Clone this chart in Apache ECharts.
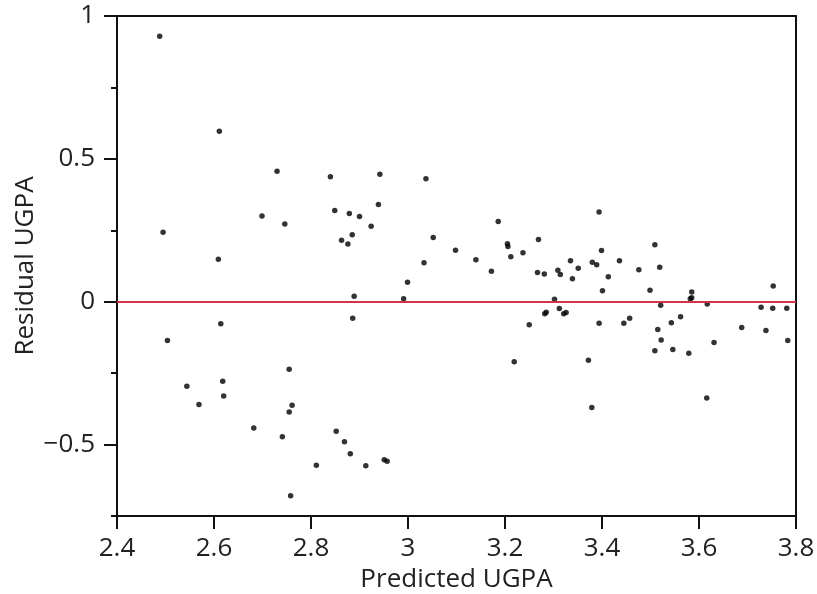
<!DOCTYPE html>
<html>
<head>
<meta charset="utf-8">
<script src="https://cdn.jsdelivr.net/npm/echarts@6/dist/echarts.min.js"></script>
<style>
html,body{margin:0;padding:0;background:#fff;}
#chart{width:817px;height:594px;}
</style>
</head>
<body>
<div id="chart"></div>
<script>
// Predicted UGPA (x) and residual UGPA (y)
const predicted = [
  2.488, 2.611, 2.730, 2.840, 2.699, 2.746, 2.849, 2.495, 2.609, 2.942,
  3.037, 2.879, 2.900, 2.939, 2.924, 2.863, 2.876, 2.885, 3.052, 3.186,
  3.098, 3.140, 3.172, 3.205, 3.206, 3.212, 3.237, 3.269, 3.267, 3.281,
  3.309, 3.314, 3.033, 2.999, 2.889, 2.991, 3.302, 3.394, 3.509, 3.399,
  3.335, 3.380, 3.389, 3.351, 3.436, 3.476, 3.519, 3.339, 3.413, 3.401,
  3.499, 3.585, 3.585, 3.582, 3.753, 2.614, 2.504, 2.755, 2.544, 2.618,
  2.620, 2.569, 2.761, 2.755, 2.682, 2.741, 2.852, 2.811, 2.758, 2.886,
  2.869, 2.881, 2.913, 2.951, 2.957, 3.219, 3.250, 3.282, 3.285, 3.312,
  3.321, 3.326, 3.521, 3.617, 3.728, 3.752, 3.781, 3.394, 3.445, 3.457,
  3.543, 3.562, 3.515, 3.522, 3.509, 3.546, 3.579, 3.631, 3.688, 3.738,
  3.783, 3.372, 3.379, 3.616
];
const residual = [
  0.929, 0.597, 0.457, 0.437, 0.300, 0.272, 0.319, 0.243, 0.149, 0.446,
  0.430, 0.309, 0.298, 0.340, 0.264, 0.215, 0.202, 0.234, 0.225, 0.281,
  0.180, 0.147, 0.107, 0.203, 0.193, 0.157, 0.171, 0.218, 0.102, 0.097,
  0.110, 0.095, 0.136, 0.068, 0.019, 0.010, 0.009, 0.314, 0.199, 0.179,
  0.143, 0.138, 0.129, 0.117, 0.143, 0.112, 0.121, 0.080, 0.087, 0.038,
  0.040, 0.034, 0.014, 0.010, 0.055, -0.077, -0.136, -0.236, -0.296, -0.278,
  -0.330, -0.360, -0.362, -0.386, -0.442, -0.473, -0.453, -0.572, -0.679, -0.058,
  -0.490, -0.532, -0.574, -0.553, -0.558, -0.210, -0.081, -0.042, -0.037, -0.024,
  -0.042, -0.038, -0.012, -0.008, -0.019, -0.023, -0.023, -0.075, -0.075, -0.058,
  -0.074, -0.053, -0.097, -0.134, -0.172, -0.167, -0.180, -0.143, -0.090, -0.101,
  -0.136, -0.205, -0.370, -0.337
];
const xTicks = [2.4, 2.6, 2.8, 3.0, 3.2, 3.4, 3.6, 3.8];
const yMajorTicks = [-0.5, 0, 0.5, 1];
const yMinorTicks = [-0.75, -0.25, 0.25, 0.75];
const xRange = [2.4, 3.8];
const yRange = [-0.75, 1];
const referenceLevel = 0;
const xTitle = 'Predicted UGPA';
const yTitle = 'Residual UGPA';

const points = predicted.map((x, i) => [x, residual[i]]);
const FONT = 'Open Sans';
const fmt = v => String(+v.toFixed(2)).replace('-', '\u2212');
const LINE = { color: '#111', width: 2 };
const frameAxis = (extra) => Object.assign({
  type: 'value',
  axisLine: { show: true, onZero: false, lineStyle: LINE },
  axisTick: { show: false }, axisLabel: { show: false }, splitLine: { show: false }
}, extra);

const chart = echarts.init(document.getElementById('chart'));
chart.setOption({
  animation: false,
  backgroundColor: '#ffffff',
  grid: { left: 117, right: 21, top: 16, bottom: 78, outerBoundsMode: 'none', containLabel: false },
  xAxis: [{
    type: 'value', min: xRange[0], max: xRange[1], position: 'bottom',
    name: xTitle, nameLocation: 'middle', nameGap: 46,
    nameTextStyle: { fontFamily: FONT, fontSize: 26, color: '#222' },
    axisLine: { show: true, onZero: false, lineStyle: LINE },
    axisTick: { show: true, length: 13, customValues: xTicks, lineStyle: LINE },
    axisLabel: { customValues: xTicks, margin: 20, fontFamily: FONT, fontSize: 26, color: '#222', formatter: fmt },
    splitLine: { show: false }
  }, frameAxis({ min: xRange[0], max: xRange[1], position: 'top' })],
  yAxis: [{
    type: 'value', min: yRange[0], max: yRange[1], position: 'left',
    name: yTitle, nameLocation: 'middle', nameGap: 78, nameMoveOverlap: false,
    nameTextStyle: { fontFamily: FONT, fontSize: 26, color: '#222' },
    axisLine: { show: true, onZero: false, lineStyle: LINE },
    axisTick: { show: true, length: 13, customValues: yMajorTicks, lineStyle: LINE },
    axisLabel: { customValues: yMajorTicks, margin: 22, fontFamily: FONT, fontSize: 26, color: '#222', formatter: fmt },
    splitLine: { show: false }
  }, {
    type: 'value', min: yRange[0], max: yRange[1], position: 'left',
    axisLine: { show: false, onZero: false },
    axisTick: { show: true, length: 6, customValues: yMinorTicks, lineStyle: LINE },
    axisLabel: { show: false },
    splitLine: { show: false }
  }, frameAxis({ min: yRange[0], max: yRange[1], position: 'right' })],
  series: [{
    type: 'scatter', xAxisIndex: 0, yAxisIndex: 0, data: points,
    symbol: 'circle', symbolSize: 5.5,
    itemStyle: { color: '#000' },
    markLine: {
      silent: true, symbol: ['none', 'none'], label: { show: false },
      lineStyle: { color: '#d3324f', width: 2, type: 'solid' },
      data: [{ yAxis: referenceLevel }]
    },
    z: 3
  }]
});
</script>
</body>
</html>
